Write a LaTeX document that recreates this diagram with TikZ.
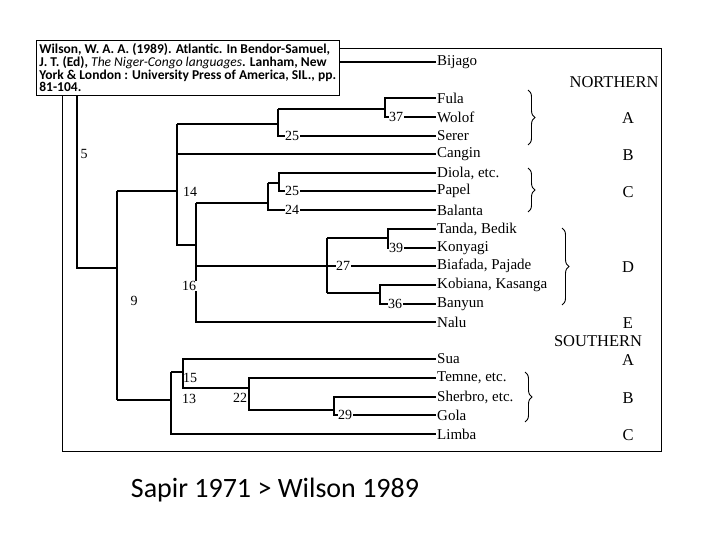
\documentclass[tikz,border=0pt]{standalone}
\usepackage{fontspec}
\setmainfont{Liberation Serif}
\newfontfamily\carl{Carlito}
\usetikzlibrary{decorations.pathreplacing}
\begin{document}
\begin{tikzpicture}[x=1pt,y=-1pt,
  br/.style={line width=1.1pt},
  lf/.style={anchor=west,inner sep=1pt,font=\fontsize{15}{15}\selectfont},
  num/.style={fill=white,inner sep=0.5pt,font=\fontsize{14}{14}\selectfont},
  grp/.style={font=\fontsize{16.5}{16}\selectfont},
  brace/.style={decorate,decoration={brace,amplitude=7pt},line width=0.9pt}]
\useasboundingbox (0,0) rectangle (720,540);
\draw[line width=0.8pt] (62,48) rectangle (661,451);
% leaves
\foreach \n/\y/\t in {bij/63/Bijago,ful/99/Fula,wol/118/Wolof,ser/137/Serer,can/155/Cangin,dio/174/{Diola, etc.},pap/192/Papel,bal/211/Balanta,tan/230/{Tanda, Bedik},kon/249/Konyagi,bia/267/{Biafada, Pajade},kob/286/{Kobiana, Kasanga},ban/305/Banyun,nal/323/Nalu,sua/360/Sua,tem/379/{Temne, etc.},she/398/{Sherbro, etc.},gol/416/Gola,lim/435/Limba}
  \node[lf] (\n) at (436,\y-1) {\t};
% tree
\draw[br] (bij.west) -- (77,62) -- (77,268) -- (117,268);
\draw[br] (117,191) -- (117,400);
\draw[br] (117,191) -- (177,191);
\draw[br] (177,124) -- (177,245) -- (196,245);
\draw[br] (177,124) -- (278,124);
\draw[br] (278,109) -- (278,136) -- (ser.west);
\draw[br] (278,109) -- (385,109);
\draw[br] (ful.west) -- (385,98) -- (385,117) -- (wol.west);
\draw[br] (177,154) -- (can.west);
\draw[br] (196,203) -- (196,322) -- (nal.west);
\draw[br] (196,203) -- (268,203);
\draw[br] (268,183) -- (268,210) -- (bal.west);
\draw[br] (268,183) -- (279,183);
\draw[br] (dio.west) -- (279,173) -- (279,191) -- (pap.west);
\draw[br] (196,266) -- (bia.west);
\draw[br] (327,238) -- (327,293);
\draw[br] (327,238) -- (388,238);
\draw[br] (tan.west) -- (388,229) -- (388,248) -- (kon.west);
\draw[br] (327,293) -- (380,293);
\draw[br] (kob.west) -- (380,285) -- (380,304) -- (ban.west);
\draw[br] (117,400) -- (171,400);
\draw[br] (171,372) -- (171,434) -- (lim.west);
\draw[br] (171,372) -- (183,372);
\draw[br] (sua.west) -- (183,359) -- (183,388) -- (249,388);
\draw[br] (tem.west) -- (249,378) -- (249,410) -- (334,410);
\draw[br] (she.west) -- (334,397) -- (334,415) -- (gol.west);
% numbers
\node[num] (n5) at (84,154) {5};
\node[num] (n9) at (134,301) {9};
\node[num] (n14) at (190,192) {14};
\node[num] (n16) at (189,286) {16};
\node[num] (n37) at (396,117) {37};
\node[num] (n25a) at (292,136) {25};
\node[num] (n25b) at (292,191) {25};
\node[num] (n24) at (292,210) {24};
\node[num] (n27) at (343,266) {27};
\node[num] (n39) at (396,248) {39};
\node[num] (n36) at (395,304) {36};
\node[num,fill=none] (n15) at (190,378) {15};
\node[num,fill=none] (n13) at (189,399) {13};
\node[num,fill=none] (n22) at (240,398) {22};
\node[num] (n29) at (345,415) {29};
% groups
\node[grp] (gN) at (614,82) {NORTHERN};
\node[grp] (gNA) at (628,118) {A};
\node[grp] (gNB) at (628,155) {B};
\node[grp] (gNC) at (628,192) {C};
\node[grp] (gND) at (628,267) {D};
\node[grp] (gNE) at (628,323) {E};
\node[grp] (gS) at (598,341) {SOUTHERN};
\node[grp] (gSA) at (628,360) {A};
\node[grp] (gSB) at (628,398) {B};
\node[grp] (gSC) at (628,435) {C};
\draw[brace] (528,90) -- (528,145);
\draw[brace] (528,168) -- (528,212);
\draw[brace] (562,228) -- (562,305);
\draw[brace] (525,372) -- (525,422);
% citation
\node[draw,line width=0.8pt,fill=white,anchor=north west,inner sep=3pt,align=left,font=\carl\bfseries\fontsize{13.5}{12.8}\selectfont] (cit) at (36,40)
 {Wilson, W. A. A. (1989). Atlantic. In Bendor-Samuel,\\ J. T. (Ed), {\mdseries\itshape The Niger-Congo languages}. Lanham, New\\ York \& London : University Press of America, SIL., pp.\\ 81-104.};
\node[font=\carl\fontsize{28}{28}\selectfont] (cap) at (275,490) {Sapir 1971 > Wilson 1989};
\end{tikzpicture}
\end{document}
